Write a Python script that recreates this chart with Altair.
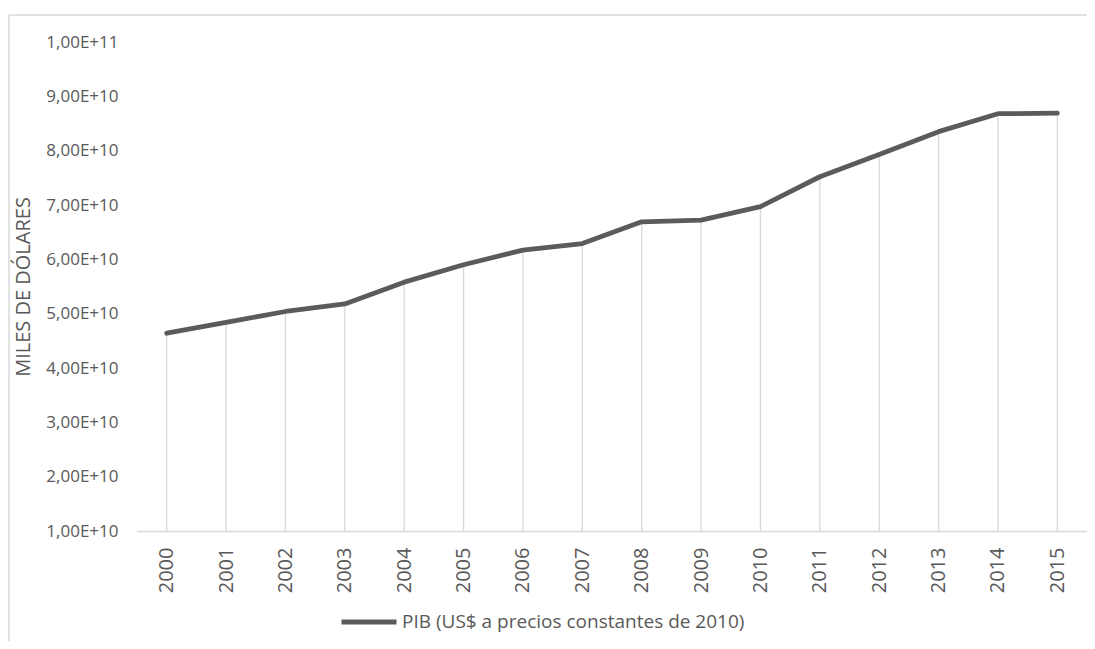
import altair as alt
import pandas as pd

years = [2000, 2001, 2002, 2003, 2004, 2005, 2006, 2007,
         2008, 2009, 2010, 2011, 2012, 2013, 2014, 2015]
pib = [4.64e10, 4.84e10, 5.04e10, 5.18e10, 5.58e10, 5.90e10, 6.17e10, 6.29e10,
       6.69e10, 6.72e10, 6.97e10, 7.52e10, 7.93e10, 8.35e10, 8.68e10, 8.69e10]
y_ticks = [1e10, 2e10, 3e10, 4e10, 5e10, 6e10, 7e10, 8e10, 9e10, 1e11]
series_name = "PIB (US$ a precios constantes de 2010)"
y_title = "MILES DE DÓLARES"

df = pd.DataFrame({"year": years, "value": pib, "serie": series_name})

FONT = "Open Sans"
TXT = "#595959"
GRID = "#d9d9d9"

x_enc = alt.X("year:O", title=None,
              scale=alt.Scale(type="point", padding=0.5),
              axis=alt.Axis(labelAngle=270, labelFontSize=20, labelColor=TXT,
                            labelFont=FONT, labelPadding=16, ticks=False,
                            domainColor=GRID, domainWidth=1.5))
y_enc = alt.Y("value:Q", title=y_title,
              scale=alt.Scale(domain=[y_ticks[0], y_ticks[-1]], nice=False, zero=False),
              axis=alt.Axis(values=y_ticks, grid=False, domain=False, ticks=False,
                            labelExpr="replace(replace(format(datum.value, '.2e'), '.', ','), 'e', 'E')",
                            labelFontSize=17, labelColor=TXT, labelFont=FONT, labelPadding=19,
                            titleFontSize=20, titleColor=TXT, titleFont=FONT,
                            titleFontWeight="normal", titlePadding=12))

base1 = alt.Chart(df).transform_filter("datum.year == 2000")
frame_left = base1.mark_rule(color=GRID, strokeWidth=1.5).encode(
    x=alt.value(-128), y=alt.value(-27), y2=alt.value(800))
frame_top = base1.mark_rule(color=GRID, strokeWidth=1.5).encode(
    x=alt.value(-128), x2=alt.value(1200), y=alt.value(-27))

drops = alt.Chart(df).mark_rule(color=GRID, strokeWidth=1.3).encode(
    x=x_enc, y=y_enc, y2=alt.datum(y_ticks[0])
)

line = alt.Chart(df).mark_line(strokeWidth=4.8, strokeCap="round", strokeJoin="round").encode(
    x=x_enc, y=y_enc,
    color=alt.Color("serie:N", scale=alt.Scale(range=["#5b5b5b"]),
                    legend=alt.Legend(title=None, orient="none", legendX=202, legendY=550,
                                      symbolType="stroke", symbolSize=3025,
                                      symbolStrokeWidth=4.8, labelFontSize=19,
                                      labelColor=TXT, labelFont=FONT, labelOffset=3,
                                      labelLimit=800, padding=0))
)

chart = alt.layer(frame_left, frame_top, drops, line).properties(
    width=950, height=489,
    autosize=alt.AutoSizeParams(type="none"),
    padding={"left": 129, "top": 34, "right": 0, "bottom": 110},
    background="white",
).configure(font=FONT).configure_view(strokeWidth=0, stroke="transparent")

chart.save("out.html", embed_options={"renderer": "svg", "actions": False})
